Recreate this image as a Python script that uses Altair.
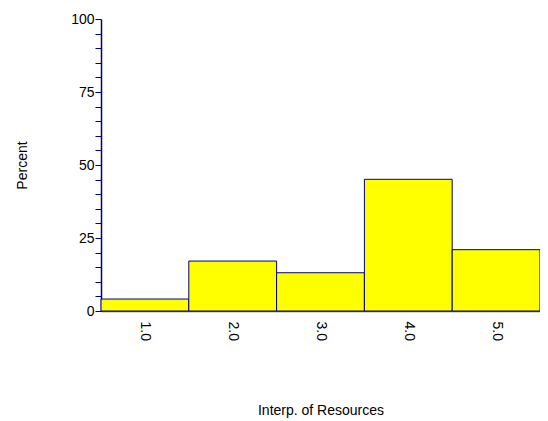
import altair as alt
import pandas as pd

centers = [1.0, 2.0, 3.0, 4.0, 5.0]
percents = [4.1, 17.1, 13.1, 45.1, 21.0]

df = pd.DataFrame({"center": centers, "percent": percents})

navy = "#000080"

chart = alt.Chart(df).transform_calculate(
    lo="datum.center - 0.5", hi="datum.center + 0.5"
).mark_rect(fill="#FFFF00", stroke=navy, strokeWidth=1).encode(
    x=alt.X("lo:Q", scale=alt.Scale(domain=[0.5, 5.5], nice=False, zero=False),
            axis=alt.Axis(values=centers, format=".1f", labelAngle=90, ticks=False,
                          grid=False, labelPadding=10, labelFontSize=14, labelFont="Arial",
                          labelColor="black", domainColor="#555577", domainWidth=1.5,
                          title="Interp. of Resources", titleFontSize=14, titleFont="Arial",
                          titleFontWeight="normal", titleColor="black",
                          titleY=99, titleBaseline="middle")),
    x2="hi:Q",
    y=alt.Y("percent:Q", scale=alt.Scale(domain=[0, 100], nice=False),
            axis=alt.Axis(values=list(range(0, 101, 5)),
                          labelExpr="datum.value % 25 == 0 ? datum.label : ''",
                          grid=False, tickSize=6, tickColor=navy, domainColor=navy,
                          domainWidth=1.5, labelFontSize=14, labelFont="Arial",
                          labelColor="black", labelPadding=1,
                          title="Percent", titleFontSize=14, titleFont="Arial",
                          titleFontWeight="normal", titleColor="black",
                          titleX=-79, titleY=146, titleAngle=-90,
                          titleAlign="center", titleBaseline="middle")),
    y2=alt.datum(0),
).properties(
    width=439, height=292,
    autosize=alt.AutoSizeParams(type="none"),
    padding={"left": 93, "top": 11, "right": 0, "bottom": 110},
    background="white",
).configure_view(stroke=None)

chart.save("out.html", embed_options={"renderer": "svg", "actions": False})
